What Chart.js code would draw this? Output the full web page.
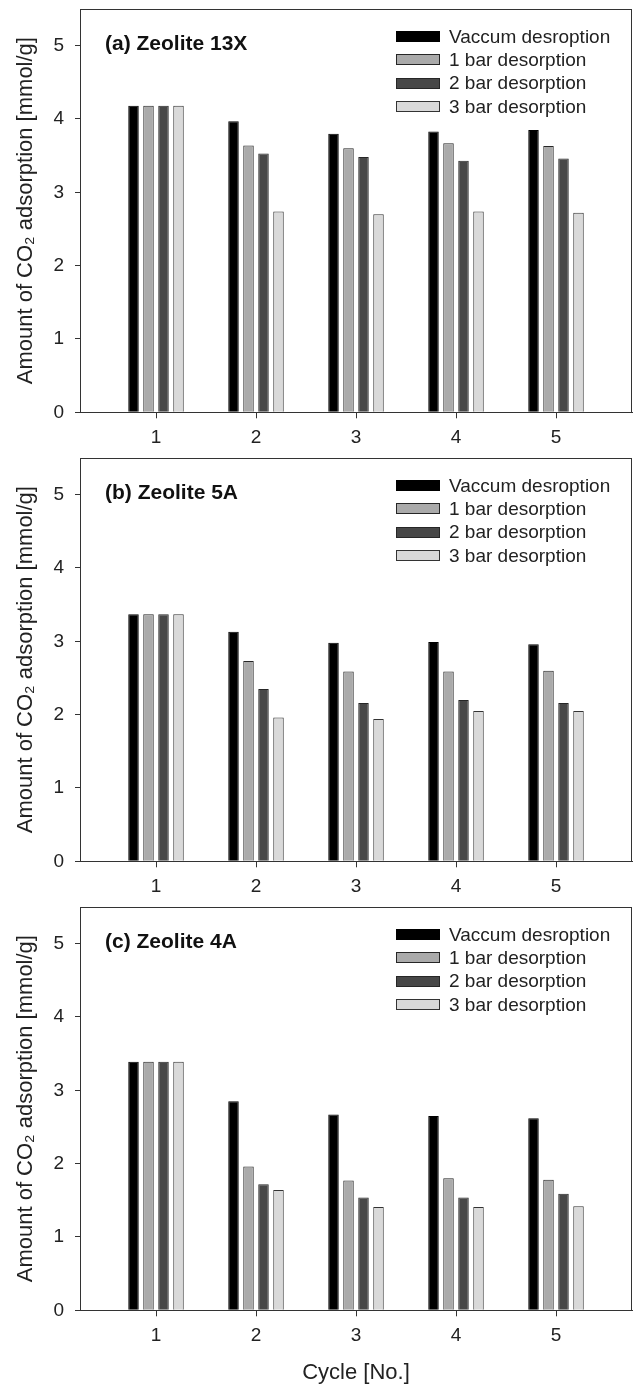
<!DOCTYPE html>
<html>
<head>
<meta charset="utf-8">
<title>CO2 adsorption cycles</title>
<script src="https://cdn.jsdelivr.net/npm/chart.js@4.4.1/dist/chart.umd.min.js"></script>
<style>
  html, body { margin: 0; padding: 0; background: #fff; }
  canvas { position: absolute; left: 0; }
</style>
</head>
<body>
<canvas id="zeo13x" width="637" height="449" style="top:0px"></canvas>
<canvas id="zeo5a" width="637" height="449" style="top:449px"></canvas>
<canvas id="zeo4a" width="637" height="489" style="top:898px"></canvas>
<script>
    'use strict';

    var cycles = [1, 2, 3, 4, 5];
    var yTicks = [0, 1, 2, 3, 4, 5];
    var seriesNames = ['Vaccum desroption', '1 bar desorption', '2 bar desorption', '3 bar desorption'];
    var seriesFill = ['#000000', '#aaaaaa', '#474747', '#d9d9d9'];
    var seriesEdge = ['#000000', '#262626', '#262626', '#333333'];

    // rows: vacuum, 1 bar, 2 bar, 3 bar
    var zeolite13X = [
        [4.18, 3.97, 3.80, 3.83, 3.85],
        [4.18, 3.64, 3.60, 3.67, 3.63],
        [4.18, 3.53, 3.48, 3.43, 3.46],
        [4.18, 2.74, 2.70, 2.74, 2.72]
    ];
    var zeolite5A = [
        [3.37, 3.13, 2.98, 2.99, 2.96],
        [3.37, 2.73, 2.59, 2.59, 2.60],
        [3.37, 2.35, 2.16, 2.20, 2.16],
        [3.37, 1.96, 1.94, 2.05, 2.05]
    ];
    var zeolite4A = [
        [3.39, 2.85, 2.67, 2.65, 2.62],
        [3.39, 1.96, 1.77, 1.80, 1.78],
        [3.39, 1.72, 1.54, 1.54, 1.59],
        [3.39, 1.64, 1.41, 1.41, 1.42]
    ];

    Chart.defaults.font.family = '"Liberation Sans", Arial, sans-serif';
    Chart.defaults.color = '#222';

    // box around the plot, panel caption and the key in the upper right
    var panelDecor = {
        id: 'panelDecor',
        afterDraw: function (chart, args, opts) {
            var a = chart.chartArea;
            var ctx = chart.ctx;
            ctx.save();
            ctx.strokeStyle = '#333';
            ctx.lineWidth = 1;
            ctx.strokeRect(Math.round(a.left) + 0.5, Math.round(a.top) + 0.5,
                Math.round(a.right - a.left) - 1, Math.round(a.bottom - a.top));

            ctx.textBaseline = 'middle';
            ctx.textAlign = 'left';
            ctx.fillStyle = '#111';
            ctx.font = 'bold 21px "Liberation Sans", Arial, sans-serif';
            ctx.fillText(opts.caption, a.left + 25, a.top + 35);

            ctx.font = '19px "Liberation Sans", Arial, sans-serif';
            chart.data.datasets.forEach(function (ds, i) {
                var y = a.top + 27.5 + i * 23.3;
                var bx = a.right - 236;
                var by = Math.round(y - 5.5);
                ctx.fillStyle = ds.backgroundColor;
                ctx.fillRect(bx, by, 44, 11);
                ctx.strokeStyle = ds.borderColor;
                ctx.strokeRect(bx + 0.5, by + 0.5, 43, 10);
                ctx.fillStyle = '#222';
                ctx.fillText(ds.label, bx + 53, y + 1);
            });
            ctx.restore();
        }
    };

    function drawPanel(id, caption, values, showXTitle) {
        var canvas = document.getElementById(id);
        var H = canvas.height;
        var plotTop = 9;
        var plotHeight = 403.3;

        var datasets = values.map(function (row, i) {
            return {
                label: seriesNames[i],
                data: row.map(function (v, j) { return { x: cycles[j], y: v }; }),
                backgroundColor: seriesFill[i],
                borderColor: seriesEdge[i],
                borderWidth: 1,
                categoryPercentage: 0.6,
                barPercentage: 0.7
            };
        });

        return new Chart(canvas, {
            type: 'bar',
            data: { datasets: datasets },
            options: {
                responsive: false,
                animation: false,
                devicePixelRatio: 1,
                layout: { padding: { top: plotTop, right: 5, left: 0, bottom: 0 } },
                plugins: {
                    legend: { display: false },
                    tooltip: { enabled: false },
                    panelDecor: { caption: caption }
                },
                scales: {
                    x: {
                        type: 'linear',
                        min: 0.24,
                        max: 5.76,
                        offset: false,
                        afterBuildTicks: function (s) {
                            s.ticks = cycles.map(function (v) { return { value: v }; });
                        },
                        afterFit: function (s) {
                            s.height = H - plotTop - plotHeight;
                            s.paddingLeft = 0;
                            s.paddingRight = 0;
                        },
                        grid: { drawOnChartArea: false, offset: false, tickLength: 6, color: '#333' },
                        border: { color: '#333' },
                        ticks: { font: { size: 19 }, padding: 8, maxRotation: 0, color: '#222' },
                        title: {
                            display: showXTitle,
                            text: 'Cycle [No.]',
                            font: { size: 22 },
                            color: '#222',
                            padding: { top: 0, bottom: 1 }
                        }
                    },
                    y: {
                        min: 0,
                        max: 5.5,
                        afterBuildTicks: function (s) {
                            s.ticks = yTicks.map(function (v) { return { value: v }; });
                        },
                        afterFit: function (s) {
                            s.width = 80;
                            s.paddingTop = 0;
                            s.paddingBottom = 0;
                        },
                        grid: { drawOnChartArea: false, tickLength: 5, color: '#333' },
                        border: { color: '#333' },
                        ticks: { font: { size: 19 }, padding: 11, color: '#222' },
                        title: {
                            display: true,
                            text: 'Amount of CO\u2082 adsorption [mmol/g]',
                            font: { size: 22 },
                            color: '#222',
                            padding: { top: 13, bottom: 0 }
                        }
                    }
                }
            },
            plugins: [panelDecor]
        });
    }

    drawPanel('zeo13x', '(a) Zeolite 13X', zeolite13X, false);
    drawPanel('zeo5a', '(b) Zeolite 5A', zeolite5A, false);
    drawPanel('zeo4a', '(c) Zeolite 4A', zeolite4A, true);
</script>
</body>
</html>
